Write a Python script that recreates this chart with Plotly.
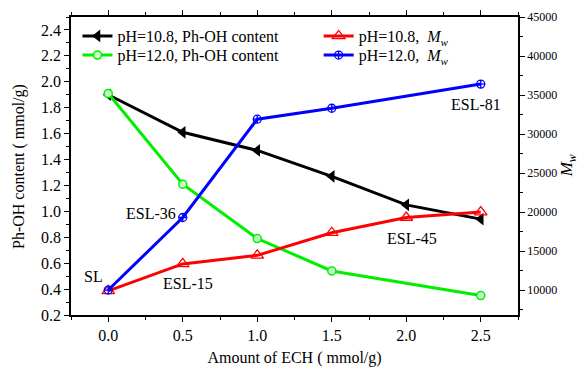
import plotly.graph_objects as go

ech = [0.0, 0.5, 1.0, 1.5, 2.0, 2.5]
ech5 = [0.0, 0.5, 1.0, 1.5, 2.5]
phoh_108 = [1.90, 1.61, 1.47, 1.27, 1.05, 0.94]
phoh_120 = [1.91, 1.21, 0.79, 0.54, 0.35]
mw_108 = [9900, 13350, 14450, 17350, 19300, 20000]
mw_120 = [10000, 19300, 31900, 33300, 36400]

FONT = "Liberation Serif"

def f(size):
    return dict(family=FONT, size=size, color="black")

fig = go.Figure()
fig.add_trace(go.Scatter(x=ech, y=phoh_108, mode="lines+markers", name="pH=10.8, Ph-OH content",
                         line=dict(color="black", width=3),
                         marker=dict(symbol="triangle-left", size=11, color="black"),
                         legend="legend"))
fig.add_trace(go.Scatter(x=ech5, y=phoh_120, mode="lines+markers", name="pH=12.0, Ph-OH content",
                         line=dict(color="#00ee00", width=3),
                         marker=dict(symbol="circle", size=8, color="#c8ffc8",
                                     line=dict(color="#00ee00", width=1.5)),
                         legend="legend3"))
fig.add_trace(go.Scatter(x=ech, y=mw_108, mode="lines+markers", name="pH=10.8,  <i>M</i><sub><i>w</i></sub>",
                         line=dict(color="#ff0000", width=3),
                         marker=dict(symbol="triangle-up-open", size=11, color="#ff0000",
                                     line=dict(width=1.3)),
                         yaxis="y2", legend="legend2"))
fig.add_trace(go.Scatter(x=ech5, y=mw_120, mode="lines+markers", name="pH=12.0,  <i>M</i><sub><i>w</i></sub>",
                         line=dict(color="#0000ff", width=3),
                         marker=dict(symbol="circle-cross-open", size=8, color="#0000ff",
                                     line=dict(width=1.3)),
                         yaxis="y2", legend="legend4"))

labels = [("SL", -0.098, 0.50), ("ESL-36", 0.287, 0.98), ("ESL-15", 0.535, 0.44),
          ("ESL-45", 2.036, 0.787), ("ESL-81", 2.468, 1.826)]
for t, x, y in labels:
    fig.add_annotation(x=x, y=y, text=t, showarrow=False, xref="x", yref="y", font=f(16))

# axis titles as rotated annotations
fig.add_annotation(x=-0.1164, y=0.5, xref="paper", yref="paper", text="Ph-OH content ( mmol/g)",
                   textangle=-90, showarrow=False, font=f(16), xanchor="center", yanchor="middle")
fig.add_annotation(x=1.1126, y=0.5, xref="paper", yref="paper", text="<i>M</i><sub><i>w</i></sub>",
                   textangle=-90, showarrow=False, font=f(17), xanchor="center", yanchor="middle")

axis_common = dict(showline=True, linecolor="black", linewidth=1.5, ticks="outside",
                   ticklen=5, tickwidth=1.2, tickcolor="black", showgrid=False, zeroline=False,
                   automargin=False)

leg = dict(xanchor="left", yanchor="middle", bgcolor="rgba(0,0,0,0)", font=f(16), itemwidth=30)

fig.update_layout(
    width=585, height=367,
    margin=dict(l=71, r=67, t=17, b=52),
    plot_bgcolor="white", paper_bgcolor="white",
    font=f(16),
    showlegend=True,
    xaxis=dict(range=[-0.25, 2.75], tickvals=[0, 0.5, 1.0, 1.5, 2.0, 2.5],
               ticktext=["0.0", "0.5", "1.0", "1.5", "2.0", "2.5"],
               tickfont=f(16), mirror="ticks",
               minor=dict(ticks="outside", ticklen=3, dtick=0.25, tick0=0, tickcolor="black"),
               title=dict(text="Amount of ECH ( mmol/g)", font=f(16), standoff=12),
               **axis_common),
    yaxis=dict(range=[0.2, 2.5], dtick=0.2, tick0=0.2, tickformat=".1f", tickfont=f(16),
               minor=dict(ticks="outside", ticklen=3, dtick=0.1, tick0=0.2, tickcolor="black"),
               **axis_common),
    yaxis2=dict(range=[6800, 45000], dtick=5000, tick0=0, tickformat="d", overlaying="y", side="right",
                tickfont=f(12),
                minor=dict(ticks="outside", ticklen=3, dtick=2500, tick0=0, tickcolor="black"),
                **axis_common),
    legend=dict(x=0.0145, y=0.936, **leg),
    legend3=dict(x=0.0145, y=0.872, **leg),
    legend2=dict(x=0.554, y=0.936, **leg),
    legend4=dict(x=0.554, y=0.872, **leg),
)

fig.write_html("out.html", config={"displayModeBar": False},
               post_script="document.body.style.margin='0';document.body.style.overflow='hidden';")
